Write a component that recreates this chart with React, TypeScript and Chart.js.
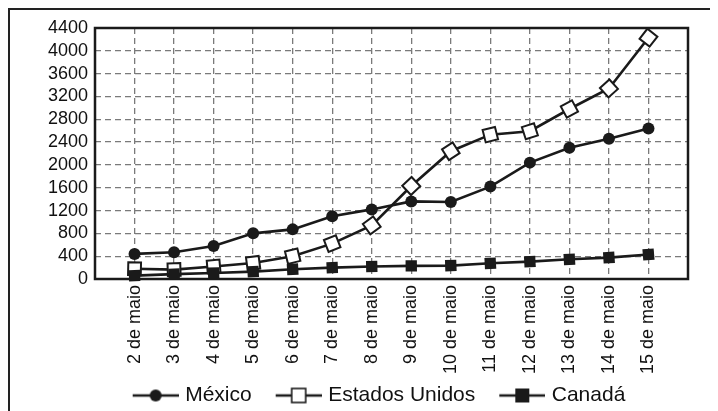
import React, { useEffect, useRef } from "react";
import { Chart, registerables } from "chart.js";

Chart.register(...registerables);

const categories = [
  "2 de maio", "3 de maio", "4 de maio", "5 de maio", "6 de maio", "7 de maio", "8 de maio",
  "9 de maio", "10 de maio", "11 de maio", "12 de maio", "13 de maio", "14 de maio", "15 de maio",
];
const mexico = [440, 470, 580, 800, 870, 1100, 1220, 1360, 1350, 1620, 2040, 2300, 2460, 2640];
const estadosUnidos = [180, 165, 220, 280, 400, 620, 940, 1630, 2240, 2530, 2590, 2980, 3340, 4230];
const canada = [60, 85, 105, 130, 170, 200, 220, 230, 235, 275, 305, 345, 375, 430];
const yTicks = [0, 400, 800, 1200, 1600, 2000, 2400, 2800, 3200, 3600, 4000, 4400];
const seriesNames = ["México", "Estados Unidos", "Canadá"];

const INK = "#1a1a1a";
const FONT = "'Liberation Sans', Arial, Helvetica, sans-serif";

// legend icon: transparent lead-in on the left so the visible line sits near the text
function makeIcon(kind: string) {
  const c = document.createElement("canvas");
  c.width = 65;
  c.height = 22;
  const g = c.getContext("2d")!;
  const x0 = 19;
  const cx = x0 + 23;
  g.strokeStyle = INK;
  g.lineWidth = 2.5;
  g.beginPath();
  g.moveTo(x0, 11);
  g.lineTo(x0 + 46, 11);
  g.stroke();
  if (kind === "circle") {
    g.beginPath();
    g.arc(cx, 11, 6, 0, Math.PI * 2);
    g.fillStyle = INK;
    g.fill();
  } else if (kind === "open") {
    g.fillStyle = "#fff";
    g.fillRect(cx - 7, 4, 14, 14);
    g.lineWidth = 1.6;
    g.strokeRect(cx - 7, 4, 14, 14);
  } else {
    g.fillStyle = INK;
    g.fillRect(cx - 7, 4, 14, 14);
  }
  return c;
}

const rotationFor = (values: number[]) => (ctx: any) => {
  const i = ctx.dataIndex;
  const chart = ctx.chart;
  const xs = chart && chart.scales && chart.scales.x;
  const ys = chart && chart.scales && chart.scales.y;
  if (i == null || !xs || !ys) return 0;
  const p = (j: number) => [xs.getPixelForValue(j), ys.getPixelForValue(values[j])];
  const a = p(i > 0 ? i - 1 : i);
  const b = p(i < values.length - 1 ? i + 1 : i);
  return (Math.atan2(b[1] - a[1], b[0] - a[0]) * 180) / Math.PI;
};

const frame = {
  id: "plotFrame",
  beforeDatasetsDraw(chart: any) {
    const { ctx, chartArea } = chart;
    ctx.save();
    ctx.strokeStyle = INK;
    ctx.lineWidth = 2.5;
    ctx.strokeRect(chartArea.left, chartArea.top, chartArea.right - chartArea.left, chartArea.bottom - chartArea.top);
    ctx.restore();
  },
};

export default function App() {
  const ref = useRef<HTMLCanvasElement | null>(null);

  useEffect(() => {
    document.body.style.overflow = "hidden";
    Chart.defaults.font.family = FONT;
    Chart.defaults.font.size = 18;
    Chart.defaults.color = "#111";
    const icons = [makeIcon("circle"), makeIcon("open"), makeIcon("filled")];
    const toXY = (vals: number[]) => vals.map((v, i) => ({ x: i, y: v }));

    const grid = { color: "#7a7a7a", lineWidth: 1.3, drawTicks: false };
    const border = { display: false, dash: [6, 4] };

    const chart = new Chart(ref.current!, {
      type: "line",
      data: {
        datasets: [
          {
            label: seriesNames[0],
            data: toXY(mexico),
            borderColor: INK,
            borderWidth: 2.6,
            pointStyle: "circle",
            pointRadius: 6,
            pointBackgroundColor: INK,
            pointBorderColor: INK,
            pointBorderWidth: 0,
            order: 2,
            clip: false,
          },
          {
            label: seriesNames[1],
            data: toXY(estadosUnidos),
            borderColor: INK,
            borderWidth: 2.6,
            pointStyle: "rect",
            pointRadius: 9,
            pointRotation: rotationFor(estadosUnidos),
            pointBackgroundColor: "#fff",
            pointBorderColor: INK,
            pointBorderWidth: 2,
            order: 1,
            clip: false,
          },
          {
            label: seriesNames[2],
            data: toXY(canada),
            borderColor: INK,
            borderWidth: 2.6,
            pointStyle: "rect",
            pointRadius: 8,
            pointRotation: rotationFor(canada),
            pointBackgroundColor: INK,
            pointBorderColor: INK,
            pointBorderWidth: 0,
            order: 0,
            clip: false,
          },
        ] as any,
      },
      options: {
        animation: false,
        responsive: false,
        events: [],
        layout: { padding: { left: 35, right: 20, top: 18, bottom: 0 } },
        scales: {
          x: {
            type: "linear",
            min: -1,
            max: 14,
            grid,
            border,
            afterBuildTicks: (s: any) => {
              s.ticks = categories.map((_, i) => ({ value: i }));
            },
            afterFit: (s: any) => {
              s.height = 97;
            },
            ticks: {
              autoSkip: false,
              minRotation: 90,
              maxRotation: 90,
              padding: 6,
              color: "#111",
              font: { size: 18, family: FONT },
              callback: (v: any) => categories[v as number] ?? "",
            },
          },
          y: {
            type: "linear",
            min: 0,
            max: 4400,
            grid,
            border,
            afterBuildTicks: (s: any) => {
              s.ticks = yTicks.map((v) => ({ value: v }));
            },
            afterFit: (s: any) => {
              s.width = 50;
            },
            ticks: {
              autoSkip: false,
              padding: 7,
              color: "#111",
              font: { size: 18, family: FONT },
              callback: (v: any) => String(v),
            },
          },
          yRight: {
            type: "linear",
            position: "right",
            display: true,
            grid: { display: false, drawTicks: false },
            border: { display: false },
            ticks: { display: false },
            afterFit: (s: any) => {
              s.width = 10;
            },
          },
        },
        plugins: {
          tooltip: { enabled: false },
          legend: {
            position: "bottom",
            labels: {
              usePointStyle: true,
              pointStyleWidth: 57,
              padding: 9,
              color: "#111",
              font: { size: 21, family: FONT },
              generateLabels: () =>
                seriesNames.map((name, i) => ({
                  text: name,
                  pointStyle: icons[i],
                  fillStyle: "transparent",
                  strokeStyle: "transparent",
                  lineWidth: 0,
                  hidden: false,
                  datasetIndex: i,
                  fontColor: "#111",
                  rotation: 0,
                })) as any,
            },
          },
        },
      } as any,
      plugins: [frame],
    });
    return () => chart.destroy();
  }, []);

  return (
    <div
      style={{
        borderTop: "2px solid #222",
        borderLeft: "2px solid #222",
        width: 708,
        height: 406,
        overflow: "hidden",
      }}
    >
      <canvas ref={ref} width={708} height={406} style={{ display: "block" }} />
    </div>
  );
}
